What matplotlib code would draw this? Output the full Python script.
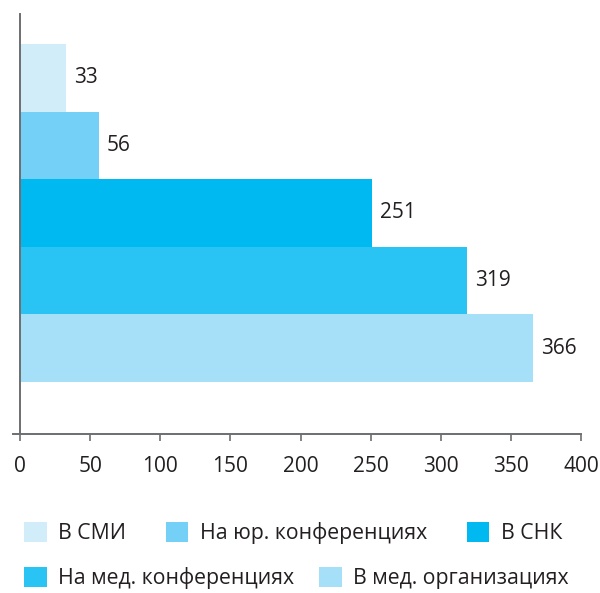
import matplotlib
matplotlib.use("Agg")
import matplotlib.pyplot as plt
from matplotlib.patches import Patch

categories = ["В СМИ", "На юр. конференциях", "В СНК", "На мед. конференциях", "В мед. организациях"]
values = [33, 56, 251, 319, 366]
colors = ["#d2edfa", "#74d0f7", "#00b9f1", "#29c4f4", "#a6dff8"]
x_ticks = [0, 50, 100, 150, 200, 250, 300, 350, 400]

plt.rcParams["font.family"] = ["Open Sans", "DejaVu Sans"]
text_color = "#231f20"
axis_color = "#6d6e70"

fig = plt.figure(figsize=(6.0, 5.93), dpi=100)
W, H = 600, 593
ax = fig.add_axes([13 / W, 1 - 434 / H, (581 - 13) / W, (434 - 14) / H])

positions = list(range(len(values)))
ax.barh(positions, values, height=1.0, color=colors, linewidth=0)
for pos, val in zip(positions, values):
    ax.annotate(str(val), (val, pos), xytext=(5.5, 0), textcoords="offset points",
                va="center", ha="left", fontsize=15, color=text_color)

ax.set_xlim(-5, 400)
ax.set_ylim(len(values) - 0.5 + 0.77, -0.5 - 0.444)
ax.spines["left"].set_position(("data", 0))
ax.spines["right"].set_visible(False)
ax.spines["top"].set_visible(False)
for s in ("left", "bottom"):
    ax.spines[s].set_color(axis_color)
    ax.spines[s].set_linewidth(1.4)
ax.set_yticks([])
ax.set_xticks(x_ticks)
ax.set_xticklabels([str(t) for t in x_ticks])
ax.tick_params(axis="x", direction="out", length=5, width=1.2, color=axis_color,
               labelsize=15, labelcolor=text_color, pad=11)

handles = [Patch(facecolor=c, edgecolor="none") for c in colors]
common = dict(frameon=False, fontsize=15.3, handlelength=1.07, handleheight=1.07,
              handletextpad=0.55, borderpad=0, borderaxespad=0, labelcolor=text_color)
fig.legend(handles[:3], categories[:3], ncol=3, loc="center left",
           bbox_to_anchor=(24 / W, 1 - 533 / H), columnspacing=1.85, **common)
fig.legend(handles[3:], categories[3:], ncol=2, loc="center left",
           bbox_to_anchor=(24 / W, 1 - 578 / H), columnspacing=1.15, **common)

fig.savefig("out.png", dpi=100)
